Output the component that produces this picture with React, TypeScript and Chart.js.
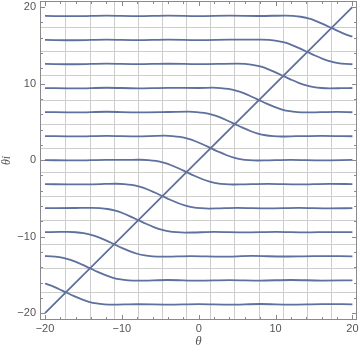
import React, { useEffect, useRef } from "react";
import { Chart, registerables } from "chart.js";

Chart.register(...registerables);

// ---- axis definitions ----
const xRange = [-20.65, 20.6];
const yRange = [-20.9, 20.8];
const majorTicks = [-20, -10, 0, 10, 20];
const minorTicks = [-18, -16, -14, -12, -8, -6, -4, -2, 2, 4, 6, 8, 12, 14, 16, 18];
const gridLines = [-17.28, -14.14, -11.0, -7.85, -4.71, -1.57, 1.57, 4.71, 7.85, 11.0, 14.14, 17.28];

// ---- contour curves: [θ, θi] ----
const curveP6 = [
  [-20, 18.85], [-16, 18.81], [-12, 18.89], [-8, 18.82], [-4, 18.88], [0, 18.83], [4, 18.88], [8, 18.84],
  [11.28, 18.9], [12.28, 18.85], [13.28, 18.74], [14.28, 18.52], [15.28, 18.18], [16.28, 17.75],
  [17.28, 17.28], [18.28, 16.81], [19.28, 16.38], [20, 16.13],
];
const curveP5 = [
  [-20, 15.71], [-16, 15.67], [-12, 15.75], [-8, 15.68], [-4, 15.74], [0, 15.69], [4, 15.74],
  [8.14, 15.76], [9.14, 15.71], [10.14, 15.6], [11.14, 15.38], [12.14, 15.04], [13.14, 14.61],
  [14.14, 14.14], [15.14, 13.67], [16.14, 13.24], [17.14, 12.9], [18.14, 12.68], [19.14, 12.57], [20, 12.53],
];
const curveP4 = [
  [-20, 12.57], [-16, 12.53], [-12, 12.61], [-8, 12.54], [-4, 12.6], [0, 12.55],
  [5.0, 12.62], [6.0, 12.57], [7.0, 12.46], [8.0, 12.24], [9.0, 11.9], [10.0, 11.47],
  [11.0, 11.0], [12.0, 10.53], [13.0, 10.1], [14.0, 9.76], [15.0, 9.54], [16.0, 9.43], [17.0, 9.38],
  [18.5, 9.4], [20, 9.43],
];
const curveP3 = [
  [-20, 9.42], [-16, 9.38], [-12, 9.46], [-8, 9.39], [-4, 9.45], [0, 9.43],
  [1.85, 9.47], [2.85, 9.42], [3.85, 9.31], [4.85, 9.09], [5.85, 8.75], [6.85, 8.32],
  [7.85, 7.85], [8.85, 7.38], [9.85, 6.95], [10.85, 6.61], [11.85, 6.39], [12.85, 6.28], [13.85, 6.23],
  [15.85, 6.27], [18, 6.31], [20, 6.26],
];
const curveP2 = [
  [-20, 6.28], [-16, 6.24], [-12, 6.32], [-8, 6.25], [-4, 6.29],
  [-1.29, 6.33], [-0.29, 6.28], [0.71, 6.17], [1.71, 5.95], [2.71, 5.61], [3.71, 5.18],
  [4.71, 4.71], [5.71, 4.24], [6.71, 3.81], [7.71, 3.47], [8.71, 3.25], [9.71, 3.14], [10.71, 3.09],
  [12.71, 3.13], [16, 3.18], [20, 3.12],
];
const curveP1 = [
  [-20, 3.14], [-16, 3.1], [-12, 3.18], [-8, 3.11],
  [-5.43, 3.18], [-4.43, 3.19], [-3.43, 3.14], [-2.43, 3.03], [-1.43, 2.81], [-0.43, 2.47], [0.57, 2.04],
  [1.57, 1.57], [2.57, 1.1], [3.57, 0.67], [4.57, 0.33], [5.57, 0.11], [6.57, 0.0], [7.57, -0.05], [8.57, -0.04],
  [12, 0.04], [16, -0.03], [20, 0.02],
];
const curve0 = [
  [-20, 0.0], [-16, -0.04], [-12, 0.04],
  [-8.57, 0.04], [-7.57, 0.05], [-6.57, 0.0], [-5.57, -0.11], [-4.57, -0.33], [-3.57, -0.67], [-2.57, -1.1],
  [-1.57, -1.57], [-0.57, -2.04], [0.43, -2.47], [1.43, -2.81], [2.43, -3.03], [3.43, -3.14], [4.43, -3.19], [5.43, -3.18],
  [9, -3.11], [13, -3.18], [17, -3.1], [20, -3.14],
];
const curveM1 = [
  [-20, -3.14], [-16, -3.18], [-12.71, -3.13],
  [-11.71, -3.1], [-10.71, -3.09], [-9.71, -3.14], [-8.71, -3.25], [-7.71, -3.47], [-6.71, -3.81], [-5.71, -4.24],
  [-4.71, -4.71], [-3.71, -5.18], [-2.71, -5.61], [-1.71, -5.95], [-0.71, -6.17], [0.29, -6.28], [1.29, -6.33], [2.29, -6.32],
  [5, -6.25], [9, -6.31], [13, -6.24], [17, -6.31], [20, -6.28],
];
const curveM2 = [
  [-20, -6.28], [-16, -6.26],
  [-14.85, -6.24], [-13.85, -6.23], [-12.85, -6.28], [-11.85, -6.39], [-10.85, -6.61], [-9.85, -6.95], [-8.85, -7.38],
  [-7.85, -7.85], [-6.85, -8.32], [-5.85, -8.75], [-4.85, -9.09], [-3.85, -9.31], [-2.85, -9.42], [-1.85, -9.47], [-0.85, -9.46],
  [2, -9.39], [6, -9.45], [10, -9.38], [14, -9.45], [17, -9.4], [20, -9.42],
];
const curveM3 = [
  [-20, -9.42], [-18, -9.39],
  [-17.0, -9.38], [-16.0, -9.43], [-15.0, -9.54], [-14.0, -9.76], [-13.0, -10.1], [-12.0, -10.53],
  [-11.0, -11.0], [-10.0, -11.47], [-9.0, -11.9], [-8.0, -12.24], [-7.0, -12.46], [-6.0, -12.57], [-5.0, -12.62], [-4.0, -12.61],
  [-1, -12.54], [3, -12.61], [7, -12.53], [11, -12.6], [15, -12.54], [20, -12.57],
];
const curveM4 = [
  [-20, -12.56], [-19.14, -12.57], [-18.14, -12.68], [-17.14, -12.9], [-16.14, -13.24], [-15.14, -13.67],
  [-14.14, -14.14], [-13.14, -14.61], [-12.14, -15.04], [-11.14, -15.38], [-10.14, -15.6], [-9.14, -15.71], [-8.14, -15.76], [-7.14, -15.75],
  [-4, -15.67], [0, -15.75], [4, -15.68], [8, -15.74], [12, -15.67], [16, -15.74], [20, -15.71],
];
const curveM5 = [
  [-20, -16.13], [-19.28, -16.38], [-18.28, -16.81],
  [-17.28, -17.28], [-16.28, -17.75], [-15.28, -18.18], [-14.28, -18.52], [-13.28, -18.74], [-12.28, -18.85], [-11.28, -18.9],
  [-8, -18.84], [-4, -18.88], [0, -18.82], [4, -18.89], [8, -18.81], [12, -18.88], [16, -18.82], [20, -18.85],
];
const diagonal = [[-20, -20], [20, 20]];

const curves = [curveP6, curveP5, curveP4, curveP3, curveP2, curveP1, curve0, curveM1, curveM2, curveM3, curveM4, curveM5, diagonal];

const LINE_COLOR = "rgb(94,112,158)";
const TEXT_COLOR = "#555555";
const FRAME_COLOR = "#8a8a8a";
const GRID_COLOR = "#cdcdcd";

const fmt = (v: number) => (v < 0 ? "\u2212" + Math.abs(v) : String(v));

const framePlugin = {
  id: "mmaFrame",
  afterDraw(chart: any) {
    const { ctx, chartArea } = chart;
    const { left, right, top, bottom } = chartArea;
    const xs = chart.scales.x;
    const ys = chart.scales.y;
    ctx.save();
    ctx.strokeStyle = FRAME_COLOR;
    ctx.lineWidth = 1;
    ctx.strokeRect(left + 0.5, top + 0.5, right - left - 1, bottom - top - 1);
    const seg = (x1: number, y1: number, x2: number, y2: number) => {
      ctx.beginPath();
      ctx.moveTo(x1, y1);
      ctx.lineTo(x2, y2);
      ctx.stroke();
    };
    const tx = (v: number, len: number) => {
      const p = Math.round(xs.getPixelForValue(v)) + 0.5;
      seg(p, bottom, p, bottom - len);
      seg(p, top, p, top + len);
    };
    const ty = (v: number, len: number) => {
      const p = Math.round(ys.getPixelForValue(v)) + 0.5;
      seg(left, p, left + len, p);
      seg(right, p, right - len, p);
    };
    majorTicks.forEach((v) => { tx(v, 5); ty(v, 5); });
    minorTicks.forEach((v) => { tx(v, 3); ty(v, 3); });
    ctx.restore();
  },
};

const zeroPad = (s: any) => {
  s.paddingLeft = 0;
  s.paddingRight = 0;
  s.paddingTop = 0;
  s.paddingBottom = 0;
};

export default function App() {
  const ref = useRef<HTMLCanvasElement>(null);
  useEffect(() => {
    if (!ref.current) return;
    const chart = new Chart(ref.current, {
      type: "line",
      data: {
        datasets: curves.map((c) => ({
          data: c.map(([x, y]) => ({ x, y })),
          borderColor: LINE_COLOR,
          borderWidth: 1.8,
          pointRadius: 0,
          fill: false,
          cubicInterpolationMode: "monotone" as const,
        })),
      },
      options: {
        responsive: false,
        animation: false,
        events: [],
        layout: { padding: { left: 0, right: 3, top: 1, bottom: 0 } },
        plugins: { legend: { display: false }, tooltip: { enabled: false } },
        scales: {
          x: {
            type: "linear",
            position: "bottom",
            min: xRange[0],
            max: xRange[1],
            afterBuildTicks: (s: any) => { s.ticks = majorTicks.map((v) => ({ value: v })); },
            afterFit: (s: any) => { s.height = 36; zeroPad(s); },
            grid: { display: false, drawTicks: false },
            border: { display: false },
            ticks: {
              padding: 2,
              color: TEXT_COLOR,
              autoSkip: false,
              maxRotation: 0,
              font: { family: "Liberation Sans", size: 11 },
              callback: (v: any) => fmt(Number(v)),
            },
            title: {
              display: true,
              text: "θ",
              color: TEXT_COLOR,
              padding: { top: 0, bottom: 7 },
              font: { family: "Liberation Serif", size: 13, style: "italic" },
            },
          },
          y: {
            type: "linear",
            position: "left",
            min: yRange[0],
            max: yRange[1],
            afterBuildTicks: (s: any) => { s.ticks = majorTicks.map((v) => ({ value: v })); },
            afterFit: (s: any) => { s.width = 40; zeroPad(s); },
            grid: { display: false, drawTicks: false },
            border: { display: false },
            ticks: {
              padding: 4,
              color: TEXT_COLOR,
              autoSkip: false,
              font: { family: "Liberation Sans", size: 11 },
              callback: (v: any) => fmt(Number(v)),
            },
            title: {
              display: true,
              text: "θi",
              color: TEXT_COLOR,
              padding: { top: 0, bottom: 0 },
              font: { family: "Liberation Serif", size: 12, style: "italic" },
            },
          },
          xg: {
            type: "linear",
            axis: "x",
            position: "bottom",
            min: xRange[0],
            max: xRange[1],
            afterBuildTicks: (s: any) => { s.ticks = gridLines.map((v) => ({ value: v })); },
            afterFit: (s: any) => { s.height = 0; zeroPad(s); },
            grid: { color: GRID_COLOR, lineWidth: 1, drawTicks: false },
            border: { display: false },
            ticks: { display: false },
          },
          yg: {
            type: "linear",
            axis: "y",
            position: "left",
            min: yRange[0],
            max: yRange[1],
            afterBuildTicks: (s: any) => { s.ticks = gridLines.map((v) => ({ value: v })); },
            afterFit: (s: any) => { s.width = 0; zeroPad(s); },
            grid: { color: GRID_COLOR, lineWidth: 1, drawTicks: false },
            border: { display: false },
            ticks: { display: false },
          },
        } as any,
      },
      plugins: [framePlugin],
    } as any);
    return () => chart.destroy();
  }, []);

  return (
    <div style={{ position: "absolute", left: 0, top: 0, width: 360, height: 356, background: "#fff" }}>
      <canvas ref={ref} width={360} height={356} style={{ display: "block" }} />
    </div>
  );
}
